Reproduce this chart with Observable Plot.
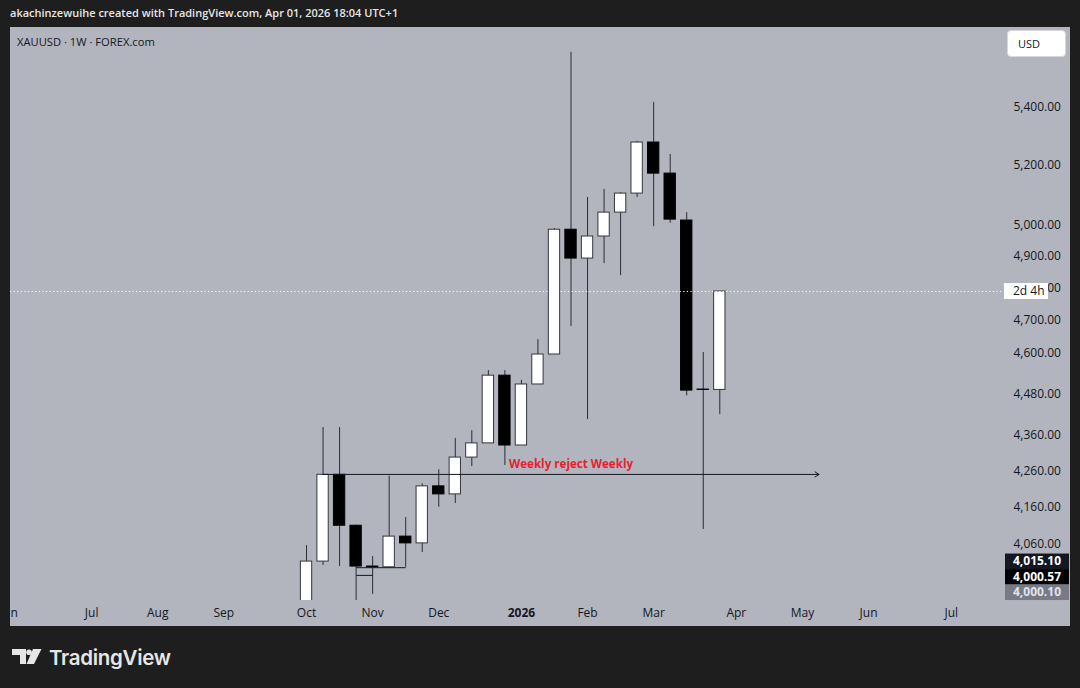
<!DOCTYPE html>
<html>
<head>
<meta charset="utf-8">
<script src="https://cdn.jsdelivr.net/npm/d3@7"></script>
<script src="https://cdn.jsdelivr.net/npm/@observablehq/plot@0.6"></script>
<style>
html,body{margin:0;padding:0;background:#1e1e1e;width:1080px;height:688px;overflow:hidden;font-family:"Open Sans",sans-serif;}
#header{position:absolute;left:10px;top:4px;color:#e6e6e6;font-size:11px;font-weight:600;line-height:18px;white-space:nowrap;}
#pane{position:absolute;left:10px;top:27px;width:1060px;height:599px;background:#b2b5be;overflow:hidden;}
#chart{position:absolute;left:0;top:0;}
#sym{position:absolute;left:7px;top:6px;font-size:11.2px;color:#131722;line-height:18px;white-space:nowrap;}
#usd{position:absolute;left:997px;top:3px;width:59px;height:27px;background:#ffffff;border-radius:4px;box-sizing:border-box;border:1px solid #d6d8de;font-size:11px;color:#131722;line-height:25px;padding-left:10px;}
#logo{position:absolute;left:12px;top:644px;height:26px;display:flex;align-items:center;}
#logo span{font-family:Inter,sans-serif;font-weight:600;font-size:20.5px;color:#e6e6e6;margin-left:7px;letter-spacing:-0.3px;}
</style>
</head>
<body>
<div id="header">akachinzewuihe created with TradingView.com, Apr 01, 2026 18:04 UTC+1</div>
<div id="pane">
  <div id="chart"></div>
  <div id="sym">XAUUSD · 1W · FOREX.com</div>
  <div id="usd">USD</div>
</div>
<div id="logo">
  <svg width="30" height="16" viewBox="0 0 30 16">
    <path d="M0 0H14V15H8V6H0Z" fill="#e6e6e6"/>
    <circle cx="17" cy="3.2" r="2.8" fill="#e6e6e6"/>
    <path d="M21 0H29.5L22 15H14.5Z" fill="#e6e6e6"/>
  </svg>
  <span>TradingView</span>
</div>
<script>
// ---- data (weekly XAUUSD candles, FOREX.com) ----
const weeks = ["2025-10-06","2025-10-13","2025-10-20","2025-10-27","2025-11-03","2025-11-10","2025-11-17","2025-11-24",
  "2025-12-01","2025-12-08","2025-12-15","2025-12-22","2025-12-29","2026-01-05","2026-01-12","2026-01-19","2026-01-26",
  "2026-02-02","2026-02-09","2026-02-16","2026-02-23","2026-03-02","2026-03-09","2026-03-16","2026-03-23","2026-03-30"];
const open  = [3886,4015,4249,4110,4002,4000,4081,4063,4217,4195,4297,4337,4533,4331,4507,4596,4986,4893,4964,5042,5105,5278,5172,5016,4492,4491];
const high  = [4057,4382,4382,4112,4028,4245,4132,4224,4263,4351,4373,4548,4548,4519,4641,4990,5598,5092,5119,5108,5282,5418,5237,5042,4602,4789];
const low   = [3880,4005,4002,3886,3930,3997,4000,4039,4160,4170,4272,4337,4275,4331,4507,4596,4681,4405,4877,4839,5092,4996,5007,4474,4100,4419];
const close = [4015,4249,4110,4002,4000,4081,4063,4217,4195,4297,4337,4533,4331,4507,4596,4986,4893,4964,5042,5105,5278,5172,5019,4489,4491,4789];

const monthDates  = ["2025-06-02","2025-07-07","2025-08-04","2025-09-01","2025-10-06","2025-11-03","2025-12-01","2026-01-05","2026-02-02","2026-03-02","2026-04-06","2026-05-04","2026-06-01","2026-07-06"];
const monthLabels = ["Jun","Jul","Aug","Sep","Oct","Nov","Dec","2026","Feb","Mar","Apr","May","Jun","Jul"];
const priceTicks  = [5400,5200,5000,4900,4800,4700,4600,4480,4360,4260,4160,4060];

const rejectFrom = "2025-10-13", rejectTo = "2026-05-11", rejectPrice = 4250, rejectText = "Weekly reject Weekly";
const levelFrom = ["2025-10-27","2025-10-27"], levelTo = ["2025-11-17","2025-11-03"], levelPrice = [3999,3979];
const badgeValues = [4015.10, 4000.57, 4000.10];
const badgeFills  = ["#131722", "#000000", "#787b86"];
const badgeText   = ["#ffffff", "#ffffff", "#e0e3eb"];
const countdown = "2d 4h";

// ---- build ----
const candles = weeks.map((w, i) => ({date: new Date(w), open: open[i], high: high[i], low: low[i], close: close[i]}));
const halfDay = 2.4 * 864e5;
const up = d => d.close >= d.open;
const months = monthDates.map((d, i) => ({date: new Date(d), label: monthLabels[i]}));
const levels = levelFrom.map((f, i) => ({x1: new Date(f), x2: new Date(levelTo[i]), y: levelPrice[i]}));
const rej = {x1: new Date(rejectFrom), x2: new Date(rejectTo), y: rejectPrice, text: rejectText};
const last = candles[candles.length - 1];
const fmt = d3.format(",.2f");

const chart = Plot.plot({
  width: 1060, height: 599,
  marginLeft: 0, marginRight: 69, marginTop: 0, marginBottom: 26,
  style: {background: "transparent", fontFamily: "'Open Sans', sans-serif", fontSize: "12px", color: "#131722", overflow: "hidden"},
  x: {type: "utc", domain: [new Date("2025-06-02T15:36Z"), new Date("2026-07-27T07:00Z")], axis: null},
  y: {type: "log", domain: [3914.3, 5689.5], axis: null},
  color: {type: "identity"},
  marks: [
    Plot.ruleX(candles, {x: "date", y1: "low", y2: "high", stroke: "#2a2d33", strokeWidth: 1, clip: true}),
    Plot.rect(candles, {
      x1: d => new Date(+d.date - halfDay), x2: d => new Date(+d.date + halfDay),
      y1: "open", y2: "close",
      fill: d => up(d) ? "#ffffff" : "#000000",
      stroke: d => up(d) ? "#33363d" : "#000000", strokeWidth: 1, clip: true
    }),
    Plot.link(levels, {x1: "x1", x2: "x2", y1: "y", y2: "y", stroke: "#131722", strokeWidth: 1, clip: true}),
    Plot.arrow([rej], {x1: "x1", x2: "x2", y1: "y", y2: "y", stroke: "#131722", strokeWidth: 1, headLength: 7, headAngle: 66}),
    Plot.text([rej], {x: d => new Date((+d.x1 + +d.x2) / 2), y: "y", text: "text", dy: -10, fill: "#e8202e", fontWeight: "bold", fontSize: 11.6}),
    Plot.ruleY([last.close], {stroke: "#ffffff", strokeWidth: 1, strokeDasharray: "1.2,2.4"}),
    Plot.text(priceTicks, {y: d => d, text: d => fmt(d), frameAnchor: "right", textAnchor: "start", dx: 12, fill: "#131722", fontSize: 12}),
    Plot.text(months.filter(d => d.label !== "2026"), {x: "date", text: "label", frameAnchor: "bottom", dy: 16, fill: "#131722", fontSize: 12}),
    Plot.text(months.filter(d => d.label === "2026"), {x: "date", text: "label", frameAnchor: "bottom", dy: 16, fill: "#131722", fontSize: 12, fontWeight: "bold"})
  ]
});
document.getElementById("chart").appendChild(chart);

// price badges and countdown box placed with the chart's own y scale
const sy = chart.scale("y");
const svg = d3.select(chart);
const g = svg.append("g").attr("font-family", "'Open Sans', sans-serif").attr("font-size", 12).attr("text-anchor", "start");
let prev = -Infinity;
badgeValues.forEach((v, i) => {
  const cy = Math.max(sy.apply(v), prev + 15.5);
  prev = cy;
  g.append("rect").attr("x", 995).attr("y", cy - 7.5).attr("width", 64).attr("height", 15.5).attr("fill", badgeFills[i]);
  g.append("text").attr("x", 1003).attr("y", cy).attr("dy", "0.35em").attr("fill", badgeText[i]).attr("font-weight", "bold").text(fmt(v));
});
const cy = sy.apply(last.close);
g.append("rect").attr("x", 994).attr("y", cy - 8).attr("width", 44).attr("height", 16).attr("fill", "#ffffff");
g.append("text").attr("x", 1003).attr("y", cy).attr("dy", "0.35em").attr("fill", "#131722").text(countdown);
</script>
</body>
</html>
